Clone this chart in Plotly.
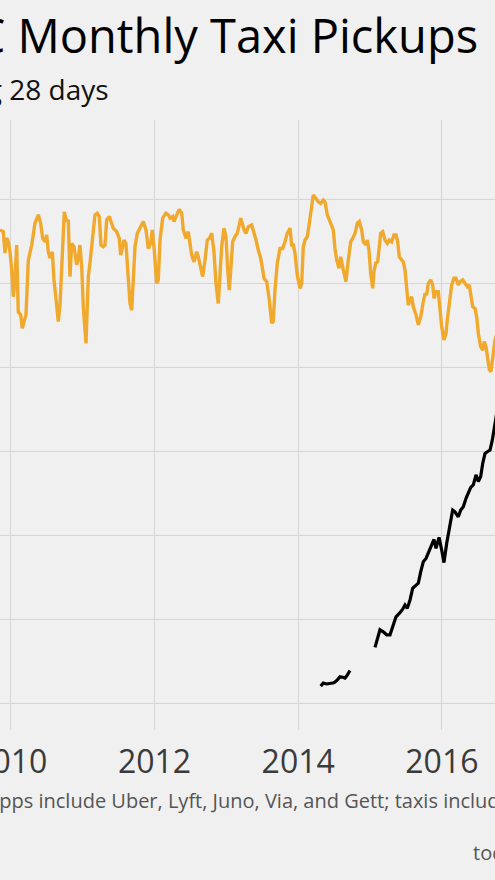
import plotly.graph_objects as go

# ---- data (decimal year, millions of pickups, trailing 28 days) ----
taxi_years = [2009.850, 2009.896, 2009.919, 2009.943, 2009.965, 2009.989, 2010.013, 2010.035, 2010.058, 2010.082,
              2010.104, 2010.138, 2010.160, 2010.184, 2010.212, 2010.244, 2010.291, 2010.337, 2010.383, 2010.416,
              2010.444, 2010.476, 2010.500, 2010.522, 2010.546, 2010.578, 2010.601, 2010.629, 2010.661, 2010.685,
              2010.708, 2010.745, 2010.778, 2010.800, 2010.824, 2010.848, 2010.880, 2010.917, 2010.939, 2010.963,
              2010.987, 2011.009, 2011.047, 2011.079, 2011.102, 2011.140, 2011.172, 2011.204, 2011.232, 2011.255,
              2011.287, 2011.311, 2011.335, 2011.371, 2011.395, 2011.427, 2011.474, 2011.510, 2011.530, 2011.576,
              2011.603, 2011.635, 2011.659, 2011.683, 2011.705, 2011.729, 2011.761, 2011.798, 2011.844, 2011.882,
              2011.914, 2011.947, 2011.969, 2011.997, 2012.031, 2012.053, 2012.077, 2012.114, 2012.160, 2012.192,
              2012.216, 2012.253, 2012.271, 2012.309, 2012.345, 2012.379, 2012.401, 2012.438, 2012.470, 2012.494,
              2012.518, 2012.550, 2012.587, 2012.610, 2012.643, 2012.671, 2012.703, 2012.735, 2012.763, 2012.796,
              2012.828, 2012.856, 2012.888, 2012.912, 2012.935, 2012.967, 2012.995, 2013.019, 2013.041, 2013.065,
              2013.088, 2013.120, 2013.152, 2013.180, 2013.200, 2013.228, 2013.246, 2013.273, 2013.306, 2013.353,
              2013.385, 2013.413, 2013.445, 2013.478, 2013.506, 2013.524, 2013.562, 2013.598, 2013.631, 2013.653,
              2013.677, 2013.709, 2013.747, 2013.784, 2013.816, 2013.848, 2013.886, 2013.909, 2013.932, 2013.956,
              2013.987, 2014.025, 2014.049, 2014.071, 2014.095, 2014.127, 2014.155, 2014.178, 2014.210, 2014.248,
              2014.280, 2014.313, 2014.349, 2014.373, 2014.405, 2014.443, 2014.466, 2014.488, 2014.512, 2014.536,
              2014.568, 2014.591, 2014.628, 2014.665, 2014.697, 2014.731, 2014.758, 2014.791, 2014.823, 2014.850,
              2014.884, 2014.906, 2014.942, 2014.962, 2014.985, 2015.009, 2015.037, 2015.055, 2015.079, 2015.106,
              2015.129, 2015.148, 2015.176, 2015.208, 2015.240, 2015.268, 2015.301, 2015.333, 2015.361, 2015.385,
              2015.407, 2015.441, 2015.463, 2015.486, 2015.510, 2015.532, 2015.556, 2015.580, 2015.602, 2015.640,
              2015.672, 2015.705, 2015.741, 2015.765, 2015.788, 2015.811, 2015.844, 2015.872, 2015.890, 2015.918,
              2015.950, 2015.974, 2015.997, 2016.029, 2016.057, 2016.075, 2016.103, 2016.136, 2016.168, 2016.196,
              2016.228, 2016.252, 2016.289, 2016.321, 2016.354, 2016.381, 2016.405, 2016.429, 2016.461, 2016.484,
              2016.507, 2016.540, 2016.568, 2016.590, 2016.614, 2016.637, 2016.660, 2016.683, 2016.707, 2016.739,
              2016.781]
taxi_pickups = [11.27, 11.23, 10.72, 11.08, 10.99, 10.75, 10.32, 9.68, 10.08, 10.91,
                9.32, 9.25, 8.93, 9.09, 9.25, 10.55, 10.91, 11.43, 11.63, 11.43,
                11.07, 10.99, 11.15, 10.75, 10.60, 10.75, 10.08, 9.64, 9.09, 9.48,
                10.48, 11.70, 11.47, 11.51, 10.16, 10.95, 10.87, 10.44, 10.60, 10.91,
                10.40, 9.44, 8.57, 10.16, 10.48, 11.03, 11.63, 11.67, 11.59, 10.91,
                10.87, 10.91, 11.51, 11.59, 11.47, 11.31, 11.23, 11.07, 10.67, 11.03,
                10.95, 10.16, 9.52, 9.36, 10.16, 10.87, 11.19, 11.31, 11.47, 11.27,
                10.83, 10.95, 11.27, 10.79, 10.00, 10.08, 11.03, 11.55, 11.67, 11.63,
                11.55, 11.59, 11.47, 11.63, 11.76, 11.67, 11.27, 11.07, 11.23, 10.95,
                10.67, 10.51, 10.75, 10.63, 10.32, 10.16, 10.55, 11.03, 11.07, 11.19,
                10.75, 10.00, 9.52, 10.16, 10.87, 11.31, 11.11, 10.32, 9.84, 10.40,
                10.99, 11.11, 11.19, 11.39, 11.55, 11.39, 11.27, 11.19, 11.35, 11.39,
                11.23, 11.03, 10.79, 10.60, 10.32, 10.12, 10.04, 9.60, 9.05, 9.09,
                9.84, 10.48, 10.83, 10.83, 10.99, 11.19, 11.31, 10.91, 10.91, 10.71,
                10.20, 9.88, 10.00, 10.87, 11.03, 11.11, 11.43, 11.75, 12.10, 12.02,
                11.94, 11.90, 11.98, 11.94, 11.63, 11.47, 11.39, 11.27, 10.83, 10.55,
                10.36, 10.63, 10.32, 10.04, 10.55, 10.99, 11.07, 11.19, 11.43, 11.47,
                11.27, 10.99, 10.91, 11.03, 10.79, 10.24, 9.88, 10.28, 10.48, 10.51,
                10.87, 11.19, 11.23, 11.03, 10.95, 11.03, 10.99, 11.15, 11.15, 10.99,
                10.63, 10.55, 10.51, 10.32, 9.76, 9.48, 9.60, 9.68, 9.44, 9.25,
                9.01, 9.20, 9.56, 9.76, 9.72, 10.00, 10.08, 9.96, 9.64, 9.80,
                9.80, 9.40, 8.97, 8.65, 8.81, 9.13, 9.56, 9.96, 10.12, 10.12,
                9.96, 10.04, 10.08, 10.00, 9.92, 9.96, 9.72, 9.44, 9.40, 9.20,
                8.81, 8.49, 8.41, 8.61, 8.49, 8.25, 7.94, 7.90, 8.17, 8.65,
                8.89]

app_years = [2014.313, 2014.349, 2014.397, 2014.443, 2014.498, 2014.536, 2014.582, 2014.619, 2014.651, 2014.683,
             2014.721, None,
             2015.069, 2015.101, 2015.138, 2015.184, 2015.232, 2015.278, 2015.315, 2015.361, 2015.407, 2015.454,
             2015.486, 2015.518, 2015.556, 2015.594, 2015.626, 2015.672, 2015.705, 2015.741, 2015.779, 2015.825,
             2015.858, 2015.890, 2015.918, 2015.960, 2015.997, 2016.029, 2016.067, 2016.103, 2016.150, 2016.182,
             2016.228, 2016.262, 2016.298, 2016.336, 2016.367, 2016.401, 2016.437, 2016.475, 2016.507, 2016.540,
             2016.568, 2016.600, 2016.632, 2016.670, 2016.702, 2016.739, 2016.781]
app_pickups = [0.41, 0.48, 0.46, 0.48, 0.49, 0.54, 0.63, 0.62, 0.60, 0.67,
               0.78, None,
               1.33, 1.51, 1.75, 1.70, 1.63, 1.63, 1.82, 2.06, 2.14, 2.24,
               2.34, 2.26, 2.46, 2.74, 2.79, 2.86, 3.13, 3.37, 3.45, 3.65,
               3.81, 3.90, 3.69, 3.95, 3.65, 3.35, 3.81, 4.20, 4.60, 4.56,
               4.44, 4.60, 4.68, 4.88, 5.00, 5.14, 5.20, 5.44, 5.28, 5.40,
               5.71, 5.95, 5.99, 6.03, 6.27, 6.67, 7.10]

x_tick_vals = [2008, 2010, 2012, 2014, 2016, 2018]
x_tick_text = ["2008", "2010", "2012", "2014", "2016", "2018"]
y_tick_vals = [0, 2, 4, 6, 8, 10, 12, 14]
y_tick_text = ["0", "2M", "4M", "6M", "8M", "10M", "12M", "14M"]

title_text = "NYC Monthly Taxi Pickups"
subtitle_text = "Trailing 28 days"
caption_text = "Ride-hailing apps include Uber, Lyft, Juno, Via, and Gett; taxis include yellow and green"
credit_text = "toddwschneider.com"

BG = "#f0f0f0"
FONT = "Open Sans"

fig = go.Figure()
fig.add_trace(go.Scatter(x=taxi_years, y=taxi_pickups, mode="lines", name="Taxis",
                         line=dict(color="#f0a92c", width=3.4), hoverinfo="skip"))
fig.add_trace(go.Scatter(x=app_years, y=app_pickups, mode="lines", name="Ride-hailing apps",
                         line=dict(color="#000000", width=3.2), connectgaps=False, hoverinfo="skip"))

fig.update_layout(
    width=495, height=880,
    margin=dict(l=0, r=0, t=120, b=150, pad=0, autoexpand=False),
    paper_bgcolor=BG, plot_bgcolor=BG,
    showlegend=False,
    font=dict(family=FONT, color="#3a3a3a"),
    xaxis=dict(range=[2009.850, 2016.739], tickmode="array", tickvals=x_tick_vals, ticktext=x_tick_text,
               showgrid=True, gridcolor="#d6d6d6", gridwidth=1.2, zeroline=False, showline=False,
               ticks="", ticklabelstandoff=10, ticklabeloverflow="allow", automargin=False,
               tickfont=dict(size=32, color="#3a3a3a", family=FONT)),
    yaxis=dict(range=[-0.636, 13.888], tickmode="array", tickvals=y_tick_vals, ticktext=y_tick_text,
               showgrid=True, gridcolor="#d6d6d6", gridwidth=1.2, zeroline=False, showline=False,
               showticklabels=False, ticks="", automargin=False),
)

fig.add_annotation(text=title_text, xref="paper", yref="paper", x=480 / 495, y=1.1387,
                   xanchor="right", yanchor="middle", showarrow=False,
                   font=dict(size=47, color="#000000", family=FONT))
fig.add_annotation(text=subtitle_text, xref="paper", yref="paper", x=110.5 / 495, y=1.0513,
                   xanchor="right", yanchor="middle", showarrow=False,
                   font=dict(size=28, color="#111111", family=FONT))
fig.add_annotation(text=caption_text, xref="paper", yref="paper", x=-128 / 495, y=-0.1151,
                   xanchor="left", yanchor="middle", showarrow=False,
                   font=dict(size=20, color="#555555", family=FONT))
fig.add_annotation(text=credit_text, xref="paper", yref="paper", x=471 / 495, y=-0.2015,
                   xanchor="left", yanchor="middle", showarrow=False,
                   font=dict(size=20, color="#555555", family=FONT))

fig.write_html(
    "out.html",
    config={"displayModeBar": False},
    post_script="document.body.style.margin='0px';document.documentElement.style.overflow='hidden';",
)
